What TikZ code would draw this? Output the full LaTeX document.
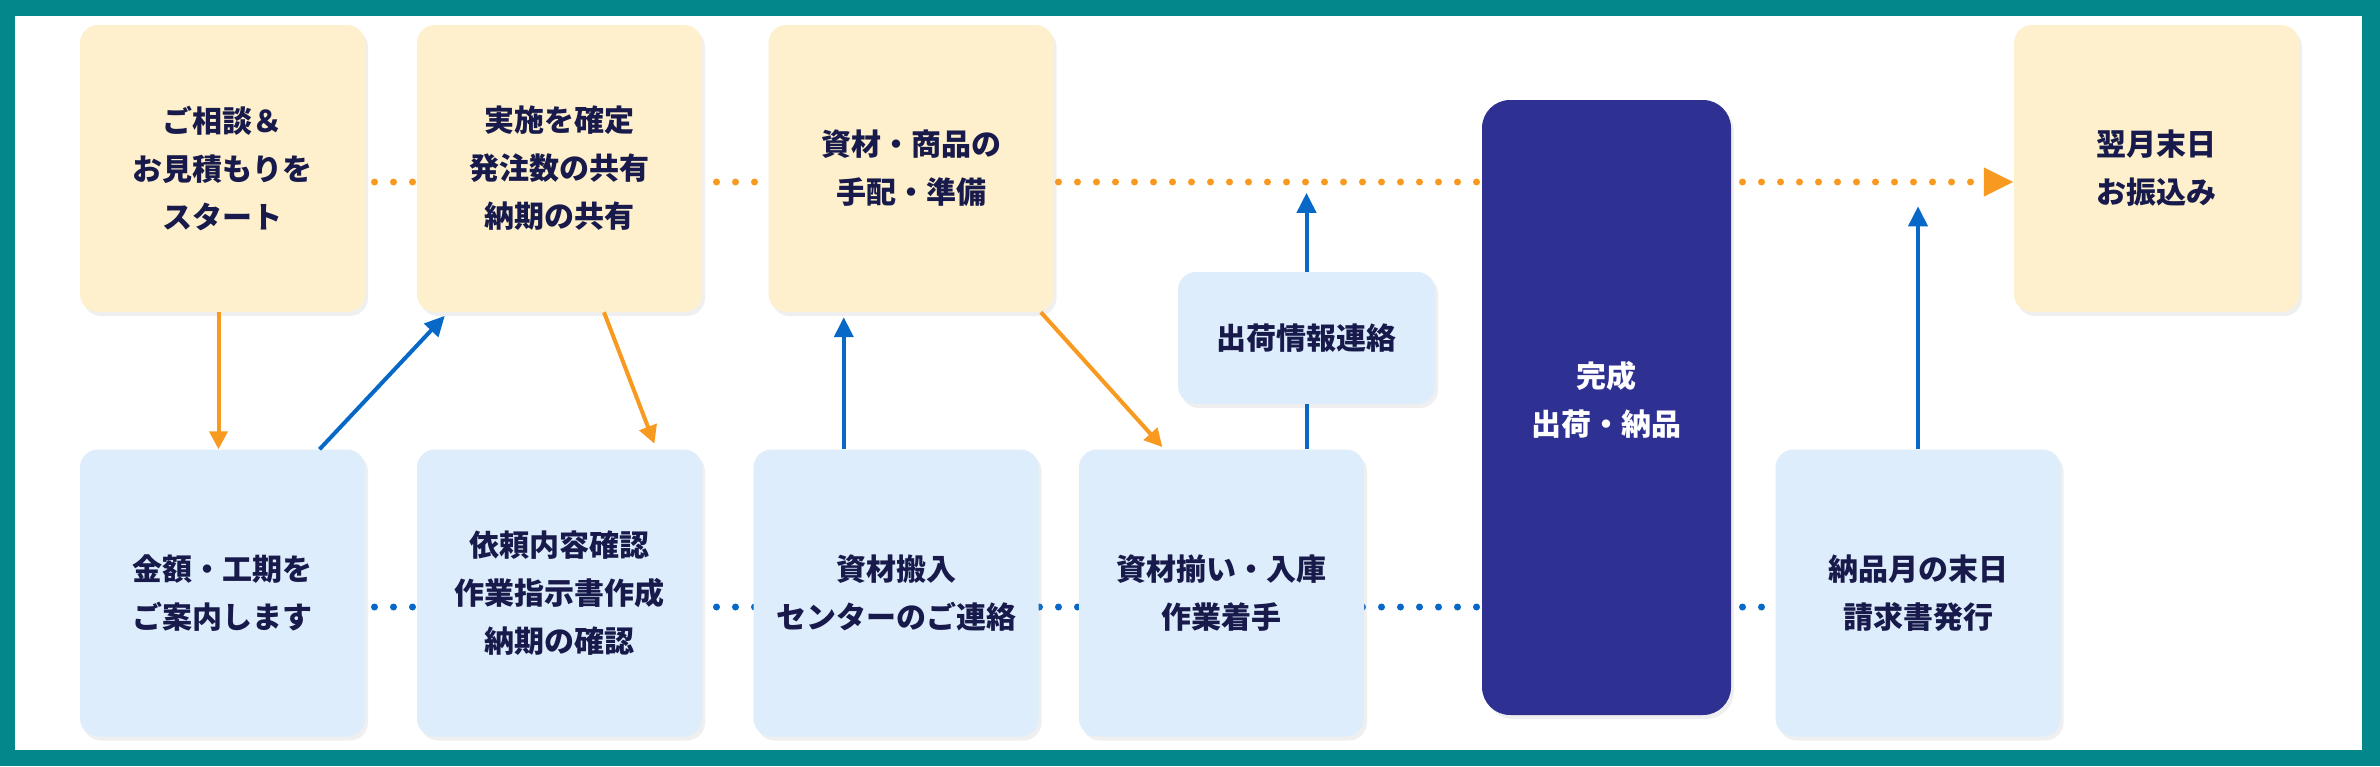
\documentclass[tikz,border=0pt]{standalone}
\usepackage{fontspec}
\newfontfamily\jpfont{Noto Sans CJK JP}
\usetikzlibrary{arrows.meta,calc,shadows,backgrounds}
\definecolor{frameteal}{HTML}{03878A}
\definecolor{cream}{HTML}{FEF0CD}
\definecolor{paleblue}{HTML}{DDEDFB}
\definecolor{navy}{HTML}{2E3192}
\definecolor{inkblue}{HTML}{171A4A}
\definecolor{flowblue}{HTML}{0868C8}
\definecolor{floworange}{HTML}{F89A1F}

\begin{document}
\begin{tikzpicture}[x=1pt,y=1pt]
		\tikzstyle{every node}+=[inner sep=0pt,align=center,text=inkblue,font=\jpfont\bfseries\fontsize{30}{48}\selectfont]
		\tikzstyle{ybox}=[rounded corners=18pt,fill=cream,minimum width=285pt,minimum height=287pt,drop shadow={shadow xshift=3pt,shadow yshift=-4pt,opacity=0.12}]
		\tikzstyle{bbox}=[ybox,fill=paleblue]
		\tikzstyle{odots}=[floworange,line width=7pt,line cap=round,dash pattern=on 0pt off 19pt]
		\tikzstyle{bdots}=[odots,flowblue]
		\tikzstyle{oarrow}=[floworange,line width=4pt,-{Triangle[length=18pt,width=18pt]}]
		\tikzstyle{barrow}=[flowblue,line width=4pt,-{Triangle[length=20pt,width=19pt]}]
		\useasboundingbox (0,0) rectangle (2380,-766);
		\begin{scope}[on background layer]
		\fill [frameteal] (0,0) rectangle (2380,-766);
		\fill [white] (15,-16) rectangle (2362,-750);
		\end{scope}
		\node [ybox] (y1) at (222.5,-168.5) {ご相談＆\\お見積もりを\\スタート};
		\node [ybox] (y2) at (559.5,-168.5) {実施を確定\\発注数の共有\\納期の共有};
		\node [ybox] (y3) at (911,-168.5) {資材・商品の\\手配・準備};
		\node [ybox] (y4) at (2156.5,-168.5) {翌月末日\\お振込み};
		\node [ybox,fill=navy,rounded corners=28pt,minimum width=249pt,minimum height=615pt,label={[yshift=8pt,text=white]center:完成\\出荷・納品}] (done) at (1606.5,-407.5) {};
		\node [bbox,minimum width=257pt,minimum height=132pt] (ship) at (1306.5,-338) {出荷情報連絡};
		\node [bbox] (b1) at (222.5,-593) {金額・工期を\\ご案内します};
		\node [bbox] (b2) at (559.5,-593) {依頼内容確認\\作業指示書作成\\納期の確認};
		\node [bbox] (b3) at (896,-593) {資材搬入\\センターのご連絡};
		\node [bbox] (b4) at (1221.5,-593) {資材揃い・入庫\\作業着手};
		\node [bbox] (b5) at (1918,-593) {納品月の末日\\請求書発行};
		\begin{scope}[on background layer]
		\draw [odots,-{Triangle[length=30pt,width=27pt]}] ([yshift=-13.5pt]y1.center) -- ([yshift=-13.5pt]y4.west);
		\draw [bdots] ([yshift=-14pt]b1.center) -- ([yshift=-14pt]b5.center);
		\end{scope}
		\draw [oarrow] ([xshift=-4pt]y1.south) -- ([xshift=-4pt]b1.north);
		\draw [barrow,shorten >=5pt] ($(b1.north west)!0.84!(b1.north east)$) -- ($(y2.south west)!0.11!(y2.south east)$);
		\draw [oarrow,shorten >=6pt] ($(y2.south west)!0.656!(y2.south east)$) -- ($(b2.north west)!0.84!(b2.north east)$);
		\coordinate (c4) at ($(b3.north west)!0.317!(b3.north east)$);
		\draw [barrow,shorten >=5pt] (c4) -- (c4 |- y3.south);
		\draw [oarrow,shorten >=3pt] ($(y3.south west)!0.955!(y3.south east)$) -- ($(b4.north west)!0.30!(b4.north east)$);
		\draw [flowblue,line width=4pt] (ship.south) -- (ship.south |- b4.north);
		\coordinate (shiptip) at ($(ship.north)+(0,79)$);
		\draw [barrow] (ship.north) -- (shiptip);
		\coordinate (paytip) at ($(b5.north)+(0,243)$);
		\draw [barrow] (b5.north) -- (paytip);
	\end{tikzpicture}
\end{document}
